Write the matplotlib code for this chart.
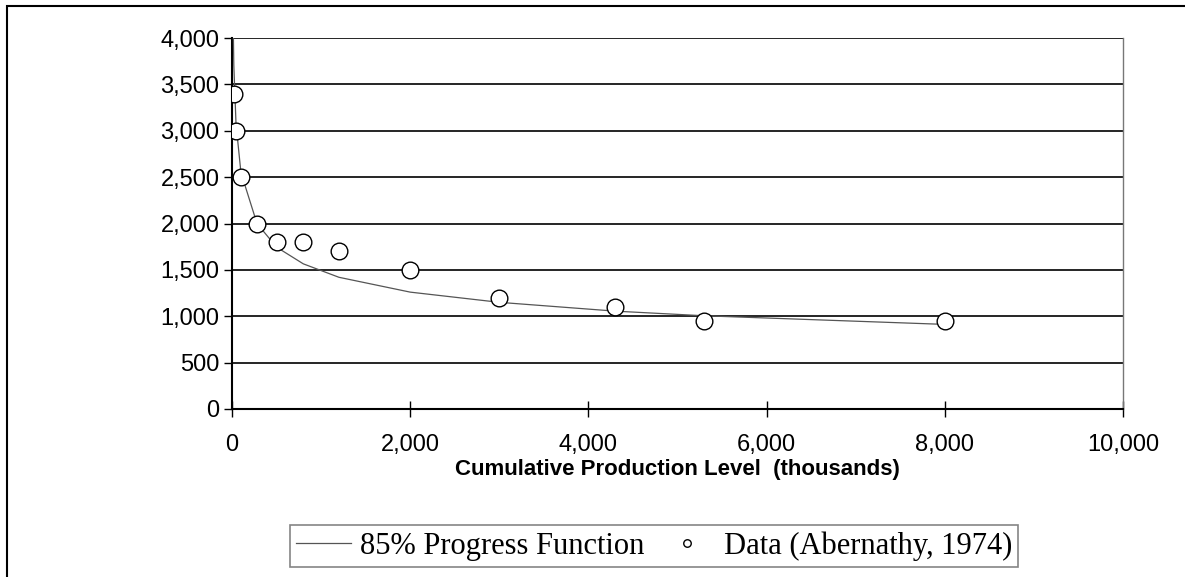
import matplotlib
matplotlib.use("Agg")
import matplotlib.pyplot as plt
from matplotlib.ticker import FuncFormatter, MultipleLocator
from matplotlib.patches import Rectangle

# cumulative production (thousands) and data points
data_x = [20, 45, 100, 280, 500, 800, 1200, 2000, 3000, 4300, 5300, 8000]
data_y = [3400, 3000, 2500, 2000, 1800, 1800, 1700, 1500, 1200, 1100, 950, 950]

curve_x = [10, 20, 45, 100, 280, 500, 800, 1200, 2000, 3000, 4300, 5300, 8000]
curve_y = [4370, 3710, 3070, 2550, 2000, 1745, 1565, 1420, 1260, 1150, 1055, 1005, 912]

fig = plt.figure(figsize=(11.85, 5.77), dpi=100)
ax = fig.add_axes([0.1958, 0.2912, 0.7519, 0.6429])

# outer frame of the figure
fig.patches.append(Rectangle((7 / 1185, -0.05), 1.2, 1.05 - 6 / 577, transform=fig.transFigure,
                             fill=False, edgecolor="black", linewidth=1.5))

line, = ax.plot(curve_x, curve_y, color="#555555", linewidth=0.9, zorder=3)
pts, = ax.plot(data_x, data_y, linestyle="none", marker="o", markersize=12,
               markerfacecolor="white", markeredgecolor="black", markeredgewidth=1.0, zorder=4)

ax.set_xlim(0, 10000)
ax.set_ylim(0, 4000)
ax.xaxis.set_major_locator(MultipleLocator(2000))
ax.yaxis.set_major_locator(MultipleLocator(500))
comma = FuncFormatter(lambda v, p: f"{int(v):,}")
ax.xaxis.set_major_formatter(comma)
ax.yaxis.set_major_formatter(comma)

ax.yaxis.grid(True, color="black", linewidth=1.2)
ax.set_axisbelow(True)
ax.spines["top"].set_visible(False)
ax.spines["right"].set_color("#777777")
ax.spines["right"].set_linewidth(1.0)
ax.spines["left"].set_linewidth(1.5)
ax.spines["bottom"].set_linewidth(1.5)

ax.tick_params(axis="y", direction="out", length=6, width=1, pad=3,
               labelsize=17, labelfontfamily="Liberation Sans")
ax.tick_params(axis="x", direction="inout", length=12, width=1, pad=12,
               labelsize=17, labelfontfamily="Liberation Sans")

ax.set_xlabel("Cumulative Production Level  (thousands)", fontsize=16, fontweight="bold",
              family="Liberation Sans", labelpad=2)

leg = fig.legend([line, pts], ["85% Progress Function", "Data (Abernathy, 1974)"],
                 loc="center", bbox_to_anchor=(654 / 1185, 1 - 546 / 577), ncol=2,
                 prop={"family": "Liberation Serif", "size": 22}, frameon=True,
                 fancybox=False, edgecolor="#666666", markerscale=0.45,
                 handlelength=1.8, handletextpad=0.3, columnspacing=0.5,
                 borderpad=0.2, borderaxespad=0.0)
leg.get_frame().set_linewidth(1.2)

fig.savefig("out.png", dpi=100)
